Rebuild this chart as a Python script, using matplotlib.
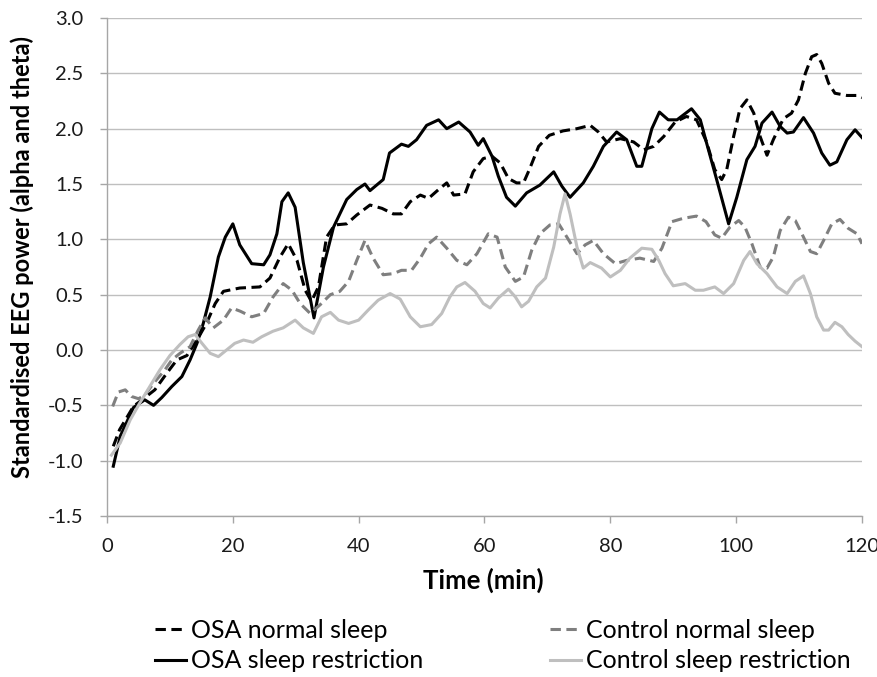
import matplotlib
matplotlib.use("Agg")
import matplotlib.pyplot as plt

plt.rcParams['font.family'] = ['Lato', 'DejaVu Sans']

# ---------------- data ----------------
osa_normal_x = [1.0, 2.0, 4.2, 5.8, 7.6, 9.5, 11.1, 12.7, 14.3, 15.8, 17.2, 18.5, 21.1, 24.3, 25.9, 27.5, 28.8, 30.2,
                31.5, 32.5, 33.6, 34.9, 36.2, 38.1, 39.7, 41.8, 43.7, 45.5, 46.8, 48.2, 49.8, 51.1, 52.7, 54.0, 55.1,
                56.9, 58.2, 59.8, 61.2, 62.5, 63.8, 65.1, 66.2, 67.2, 68.6, 70.3, 72.5, 74.7, 76.8, 78.1, 79.4, 81.6,
                83.7, 85.3, 86.9, 88.5, 90.3, 92.1, 93.7, 95.3, 96.6, 97.7, 98.5, 99.6, 100.6, 101.7, 102.8, 103.8,
                104.9, 105.9, 107.5, 108.8, 109.9, 111.0, 112.0, 112.8, 113.6, 114.7, 115.7, 117.6, 119.2, 120.0]
osa_normal_y = [-0.87, -0.72, -0.51, -0.44, -0.36, -0.21, -0.09, -0.05, 0.09, 0.24, 0.42, 0.53, 0.56, 0.57, 0.65, 0.84,
                0.96, 0.81, 0.54, 0.44, 0.57, 1.02, 1.13, 1.14, 1.22, 1.31, 1.28, 1.23, 1.23, 1.34, 1.40, 1.37, 1.45,
                1.51, 1.40, 1.41, 1.61, 1.73, 1.75, 1.69, 1.55, 1.51, 1.51, 1.64, 1.84, 1.94, 1.98, 2.00, 2.03, 1.97,
                1.88, 1.91, 1.88, 1.81, 1.84, 1.93, 2.06, 2.11, 2.08, 1.88, 1.63, 1.54, 1.63, 1.93, 2.18, 2.26, 2.14,
                1.93, 1.76, 1.90, 2.09, 2.14, 2.26, 2.50, 2.65, 2.67, 2.59, 2.41, 2.32, 2.30, 2.30, 2.28]

osa_restr_x = [1.0, 2.1, 4.2, 6.0, 7.4, 8.7, 10.3, 11.9, 13.2, 14.3, 15.3, 16.4, 17.7, 18.8, 20.0, 21.1, 23.0, 24.9,
               25.9, 27.0, 27.8, 28.8, 29.9, 31.2, 32.9, 34.4, 36.0, 38.1, 39.7, 41.0, 41.8, 43.9, 44.9, 46.8, 47.9,
               49.2, 50.8, 52.7, 54.0, 55.9, 57.7, 59.0, 59.8, 61.2, 62.2, 63.5, 64.9, 66.7, 68.8, 71.0, 72.3, 73.6,
               75.7, 77.3, 78.9, 81.0, 82.6, 84.2, 85.0, 86.6, 87.8, 89.2, 90.6, 92.9, 94.3, 95.3, 96.9, 98.8, 100.1,
               101.7, 103.0, 104.1, 105.7, 107.0, 108.1, 109.1, 110.7, 112.3, 113.6, 114.9, 116.0, 117.6, 118.9, 120.0]
osa_restr_y = [-1.05, -0.78, -0.52, -0.45, -0.50, -0.43, -0.33, -0.24, -0.09, 0.06, 0.24, 0.48, 0.84, 1.02, 1.14,
               0.95, 0.78, 0.77, 0.86, 1.05, 1.34, 1.42, 1.29, 0.79, 0.29, 0.75, 1.11, 1.36, 1.45, 1.50, 1.44, 1.54,
               1.78, 1.86, 1.84, 1.90, 2.03, 2.08, 2.00, 2.06, 1.97, 1.85, 1.91, 1.75, 1.57, 1.38, 1.30, 1.42, 1.49,
               1.61, 1.48, 1.38, 1.51, 1.66, 1.84, 1.97, 1.90, 1.66, 1.66, 2.00, 2.15, 2.08, 2.08, 2.18, 2.08, 1.87,
               1.54, 1.14, 1.38, 1.72, 1.84, 2.05, 2.15, 2.02, 1.96, 1.97, 2.10, 1.96, 1.78, 1.67, 1.70, 1.90, 1.99,
               1.92]

ctrl_normal_x = [0.9, 1.8, 2.9, 3.9, 5.0, 6.0, 7.4, 9.2, 10.3, 11.6, 13.2, 14.5, 15.6, 16.9, 18.5, 19.8, 21.2, 23.0,
                 24.9, 26.4, 28.0, 29.4, 30.7, 32.3, 33.9, 35.5, 37.0, 38.4, 39.7, 41.0, 42.3, 43.9, 45.5, 46.8, 48.4,
                 49.8, 51.1, 52.4, 54.0, 55.6, 57.2, 58.8, 60.6, 62.0, 63.3, 64.9, 66.2, 67.5, 68.8, 70.4, 71.8, 73.1,
                 74.7, 76.0, 77.3, 78.9, 80.8, 82.6, 84.7, 86.9, 88.2, 89.8, 91.6, 93.7, 95.2, 96.6, 97.7, 99.0, 100.4,
                 101.4, 102.5, 103.8, 104.9, 105.9, 107.0, 108.3, 109.4, 110.7, 111.8, 112.8, 113.9, 115.2, 116.5,
                 117.8, 119.2, 120.0]
ctrl_normal_y = [-0.51, -0.38, -0.36, -0.42, -0.44, -0.41, -0.30, -0.18, -0.09, -0.03, 0.03, 0.18, 0.29, 0.20, 0.27,
                 0.38, 0.35, 0.30, 0.33, 0.48, 0.60, 0.54, 0.42, 0.33, 0.41, 0.50, 0.53, 0.62, 0.81, 0.99, 0.83, 0.68,
                 0.69, 0.72, 0.72, 0.83, 0.96, 1.02, 0.92, 0.81, 0.77, 0.87, 1.05, 1.02, 0.75, 0.62, 0.66, 0.90, 1.05,
                 1.13, 1.14, 1.02, 0.87, 0.95, 0.99, 0.87, 0.78, 0.81, 0.83, 0.80, 0.92, 1.16, 1.19, 1.21, 1.16, 1.04,
                 1.01, 1.11, 1.17, 1.11, 0.96, 0.75, 0.74, 0.84, 1.08, 1.20, 1.17, 1.02, 0.89, 0.87, 0.99, 1.14, 1.18,
                 1.10, 1.05, 0.96]

ctrl_restr_x = [0.7, 2.1, 3.7, 5.2, 6.8, 8.4, 10.0, 11.6, 12.9, 14.0, 15.1, 16.4, 17.7, 19.0, 20.3, 21.7, 23.2, 24.6,
                26.4, 28.0, 29.9, 31.2, 32.8, 34.1, 35.5, 36.8, 38.4, 40.0, 41.5, 43.1, 45.0, 46.6, 48.2, 49.8, 51.6,
                53.2, 54.5, 55.6, 56.9, 58.5, 59.8, 60.9, 62.2, 63.8, 64.9, 65.9, 67.0, 68.3, 69.7, 71.0, 72.0, 72.8,
                73.6, 74.7, 75.7, 76.8, 78.6, 80.0, 81.6, 83.1, 85.0, 86.6, 87.7, 88.7, 90.0, 91.9, 93.5, 94.8, 96.6,
                98.0, 99.6, 101.2, 102.2, 103.3, 104.9, 106.5, 108.1, 109.4, 110.7, 111.8, 112.8, 113.9, 114.7, 115.7,
                116.8, 117.8, 118.9, 120.0]
ctrl_restr_y = [-0.95, -0.84, -0.63, -0.48, -0.33, -0.18, -0.05, 0.05, 0.12, 0.14, 0.06, -0.03, -0.06, 0.00, 0.06,
                0.09, 0.07, 0.12, 0.17, 0.20, 0.27, 0.20, 0.15, 0.30, 0.34, 0.27, 0.24, 0.27, 0.36, 0.45, 0.51, 0.46,
                0.30, 0.21, 0.23, 0.33, 0.48, 0.57, 0.61, 0.53, 0.42, 0.38, 0.47, 0.55, 0.48, 0.39, 0.44, 0.57, 0.65,
                0.93, 1.23, 1.41, 1.23, 0.93, 0.74, 0.79, 0.74, 0.66, 0.72, 0.83, 0.92, 0.91, 0.81, 0.69, 0.58, 0.60,
                0.54, 0.54, 0.57, 0.51, 0.60, 0.81, 0.89, 0.78, 0.69, 0.57, 0.51, 0.62, 0.67, 0.51, 0.30, 0.18, 0.18,
                0.25, 0.21, 0.14, 0.08, 0.03]

labels = ["OSA normal sleep", "OSA sleep restriction", "Control normal sleep", "Control sleep restriction"]
x_ticks = [0, 20, 40, 60, 80, 100, 120]
y_ticks = [-1.5, -1.0, -0.5, 0.0, 0.5, 1.0, 1.5, 2.0, 2.5, 3.0]

# ---------------- plot ----------------
fig = plt.figure(figsize=(8.78, 6.77), dpi=100)
ax = fig.add_axes([107/878, 1 - 516/677, (862-107)/878, (516-18)/677])

lw = 2.2
dash = (3.4, 1.8)
l1, = ax.plot(osa_normal_x, osa_normal_y, color='black', lw=lw, dashes=dash, zorder=3)
l2, = ax.plot(osa_restr_x, osa_restr_y, color='black', lw=lw, zorder=3)
l3, = ax.plot(ctrl_normal_x, ctrl_normal_y, color='#7f7f7f', lw=lw, dashes=dash, zorder=3)
l4, = ax.plot(ctrl_restr_x, ctrl_restr_y, color='#bfbfbf', lw=lw, zorder=3)

ax.set_xlim(0, 120)
ax.set_ylim(-1.5, 3.0)
ax.set_xticks(x_ticks)
ax.set_yticks(y_ticks)
ax.set_yticklabels([f"{v:.1f}" for v in y_ticks])
ax.grid(axis='y', color='#bfbfbf', lw=1.0, zorder=0)
ax.set_axisbelow(True)
for s in ['top', 'right']:
    ax.spines[s].set_visible(False)
for s in ['left', 'bottom']:
    ax.spines[s].set_color('#a6a6a6')
    ax.spines[s].set_linewidth(1.0)
ax.tick_params(axis='both', colors='#a6a6a6', labelcolor='#1a1a1a', labelsize=14.5, length=5, width=1.0)
ax.tick_params(axis='y', pad=12)
ax.tick_params(axis='x', pad=11)

ax.set_xlabel("Time (min)", fontsize=18.5, fontweight='bold')
ax.set_ylabel("Standardised EEG power (alpha and theta)", fontsize=17, fontweight='bold')
ax.xaxis.set_label_coords(0.4987, (516 - 568) / 498)
ax.yaxis.set_label_coords((34 - 107) / 755, 0.52)

fig.legend([l1, l2, l3, l4], labels, ncol=2, loc='upper left', bbox_to_anchor=(145/878, 1 - 609/677),
           frameon=False, fontsize=18, handlelength=1.25, handletextpad=0.2, columnspacing=5.05,
           labelspacing=0.3, borderaxespad=0)

fig.savefig("out.png", dpi=100)
